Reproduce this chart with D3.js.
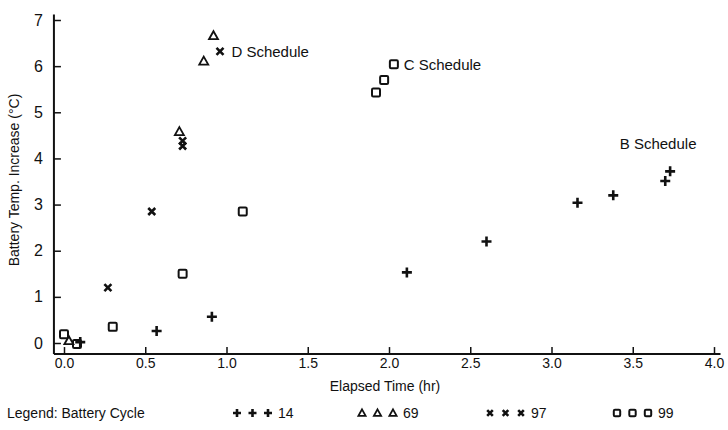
<!DOCTYPE html>
<html>
<head>
<meta charset="utf-8">
<script src="https://cdn.jsdelivr.net/npm/d3@7"></script>
<style>
  body { margin: 0; background: #fff; }
  text { font-family: "Liberation Sans", Arial, sans-serif; fill: #111; }
</style>
</head>
<body>
<svg id="chart" width="728" height="430"></svg>
<script>
// Werte
var xTicks = [0, 0.5, 1, 1.5, 2, 2.5, 3, 3.5, 4];
var xTickLabels = ["0.0", "0.5", "1.0", "1.5", "2.0", "2.5", "3.0", "3.5", "4.0"];
var yTicks = [0, 1, 2, 3, 4, 5, 6, 7];
var yTickLabels = ["0", "1", "2", "3", "4", "5", "6", "7"];

// Zyklus 14 (Plus)
var cycle14X = [0.10, 0.57, 0.91, 2.11, 2.60, 3.16, 3.38, 3.70, 3.73];
var cycle14Y = [0.02, 0.26, 0.57, 1.53, 2.20, 3.04, 3.20, 3.51, 3.72];
// Zyklus 69 (Dreieck)
var cycle69X = [0.03, 0.71, 0.86, 0.92];
var cycle69Y = [0.05, 4.58, 6.11, 6.66];
// Zyklus 97 (Kreuz)
var cycle97X = [0.27, 0.54, 0.73, 0.73, 0.96];
var cycle97Y = [1.20, 2.85, 4.38, 4.27, 6.32];
// Zyklus 99 (Quadrat)
var cycle99X = [0.00, 0.08, 0.30, 0.73, 1.10, 1.92, 1.97, 2.03];
var cycle99Y = [0.19, -0.02, 0.35, 1.50, 2.85, 5.43, 5.70, 6.04];

var seriesNames = ["14", "69", "97", "99"];
var seriesShapes = ["plus", "triangle", "cross", "square"];

var svg = d3.select("#chart");

var x = d3.scaleLinear().domain([0, 4]).range([64, 714]);
var y = d3.scaleLinear().domain([0, 7]).range([343, 20]);

var axisY0 = y(-0.24);   // Lage der x-Achse
var axisX0 = x(-0.062);  // Lage der y-Achse

// Achsenlinien
svg.append("line")
  .attr("x1", axisX0).attr("x2", x(4.04))
  .attr("y1", axisY0).attr("y2", axisY0)
  .style("stroke", "#111").style("stroke-width", 2);
svg.append("line")
  .attr("x1", axisX0).attr("x2", axisX0)
  .attr("y1", axisY0).attr("y2", y(7.12))
  .style("stroke", "#111").style("stroke-width", 2);

// x-Achse mit Ticks nach innen
var xAxis = d3.axisBottom(x)
  .tickValues(xTicks)
  .tickFormat(function(d, i) { return xTickLabels[i]; })
  .tickSizeInner(-7)
  .tickSizeOuter(0)
  .tickPadding(3);
var gx = svg.append("g")
  .attr("transform", "translate(0," + axisY0 + ")")
  .call(xAxis);
gx.select(".domain").remove();
gx.selectAll("line").style("stroke", "#111").style("stroke-width", 1.5);
gx.selectAll("text")
  .attr("y", 4)
  .style("font-size", "14px")
  .style("font-family", "Liberation Sans, Arial, sans-serif")
  .style("fill", "#111");

var yAxis = d3.axisLeft(y)
  .tickValues(yTicks)
  .tickFormat(function(d, i) { return yTickLabels[i]; })
  .tickSizeInner(-7)
  .tickSizeOuter(0)
  .tickPadding(11);
var gy = svg.append("g")
  .attr("transform", "translate(" + axisX0 + ",0)")
  .call(yAxis);
gy.select(".domain").remove();
gy.selectAll("line").style("stroke", "#111").style("stroke-width", 1.5);
gy.selectAll("text")
  .style("font-size", "16px")
  .style("font-family", "Liberation Sans, Arial, sans-serif")
  .style("fill", "#111");

// Achsentitel
svg.append("text")
  .attr("x", 385).attr("y", 391)
  .attr("text-anchor", "middle")
  .style("font-size", "14px")
  .text("Elapsed Time (hr)");

svg.append("text")
  .attr("transform", "translate(19,180) rotate(-90)")
  .attr("text-anchor", "middle")
  .style("font-size", "14px")
  .text("Battery Temp. Increase (°C)");

// Symbole zeichnen
function drawSymbol(g, shape, cx, cy, s) {
  s = s || 1;
  if (shape == "plus") {
    g.append("path")
      .attr("d", "M" + (cx - 5 * s) + "," + cy + "H" + (cx + 5 * s) + "M" + cx + "," + (cy - 5 * s) + "V" + (cy + 5 * s))
      .style("stroke", "#111").style("stroke-width", 2.6).style("fill", "none");
  } else if (shape == "triangle") {
    g.append("path")
      .attr("d", "M" + cx + "," + (cy - 4.5 * s) + "L" + (cx + 4.5 * s) + "," + (cy + 3.5 * s) + "L" + (cx - 4.5 * s) + "," + (cy + 3.5 * s) + "Z")
      .style("stroke", "#111").style("stroke-width", 1.8).style("fill", "none");
  } else if (shape == "cross") {
    g.append("path")
      .attr("d", "M" + (cx - 3.5 * s) + "," + (cy - 3.5 * s) + "L" + (cx + 3.5 * s) + "," + (cy + 3.5 * s) + "M" + (cx + 3.5 * s) + "," + (cy - 3.5 * s) + "L" + (cx - 3.5 * s) + "," + (cy + 3.5 * s))
      .style("stroke", "#111").style("stroke-width", 2.6).style("fill", "none");
  } else if (shape == "square") {
    g.append("rect")
      .attr("x", cx - 4 * s).attr("y", cy - 4 * s)
      .attr("width", 8 * s).attr("height", 8 * s)
      .attr("rx", 1.2)
      .style("stroke", "#111").style("stroke-width", 2).style("fill", "none");
  }
}

var seriesX = [cycle14X, cycle69X, cycle97X, cycle99X];
var seriesY = [cycle14Y, cycle69Y, cycle97Y, cycle99Y];
var points = svg.append("g");
seriesX.forEach(function(xs, k) {
  xs.forEach(function(v, i) {
    drawSymbol(points, seriesShapes[k], x(v), y(seriesY[k][i]));
  });
});

// Beschriftungen der Kurven
var schedNames = ["D Schedule", "C Schedule", "B Schedule"];
var schedX = [1.03, 2.09, 3.42];
var schedY = [6.32, 6.04, 4.32];
schedNames.forEach(function(n, i) {
  svg.append("text")
    .attr("x", x(schedX[i])).attr("y", y(schedY[i]))
    .attr("dy", "0.35em")
    .style("font-size", "15px")
    .text(n);
});

// Legende
var legendY = 413;
svg.append("text")
  .attr("x", 7).attr("y", legendY).attr("dy", "0.35em")
  .style("font-size", "14px")
  .text("Legend:  Battery Cycle");

var legendStart = [237, 362, 490, 617];
seriesNames.forEach(function(n, k) {
  var lg = svg.append("g");
  for (var j = 0; j < 3; j++) {
    drawSymbol(lg, seriesShapes[k], legendStart[k] + j * 15.5, legendY, 0.8);
  }
  lg.append("text")
    .attr("x", legendStart[k] + 41).attr("y", legendY).attr("dy", "0.35em")
    .style("font-size", "14px")
    .text(n);
});
</script>
</body>
</html>
